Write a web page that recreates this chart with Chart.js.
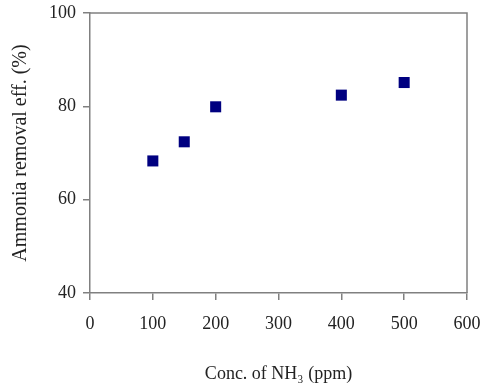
<!DOCTYPE html>
<html>
<head>
<meta charset="utf-8">
<script src="https://cdn.jsdelivr.net/npm/chart.js@4/dist/chart.umd.min.js"></script>
<style>
  html, body { margin: 0; padding: 0; background: #fff; }
  #c { display: block; }
</style>
</head>
<body>
<canvas id="c" width="480" height="385"></canvas>
<script>
const concentrations = [100, 150, 200, 400, 500];
const removalEff = [68.3, 72.4, 79.9, 82.4, 85.1];
const xTicks = [0, 100, 200, 300, 400, 500, 600];
const yTicks = [40, 60, 80, 100];
const xTitle = 'Conc. of NH\u2083 (ppm)';
const yTitle = 'Ammonia removal eff. (%)';

const axisColor = '#808080';
const textColor = '#222';
const serif = "'Liberation Serif', 'Times New Roman', serif";

const boxPlugin = {
  id: 'boxPlugin',
  afterDraw(chart) {
    const a = chart.chartArea, ctx = chart.ctx;
    ctx.save();
    ctx.strokeStyle = axisColor;
    ctx.lineWidth = 1.5;
    ctx.beginPath();
    ctx.moveTo(a.left, a.top);
    ctx.lineTo(a.right, a.top);
    ctx.lineTo(a.right, a.bottom);
    ctx.stroke();
    ctx.restore();
  }
};

new Chart(document.getElementById('c'), {
  type: 'scatter',
  data: {
    datasets: [{
      data: concentrations.map((x, i) => ({ x, y: removalEff[i] })),
      pointStyle: 'rect',
      pointRadius: 7.8,
      pointHoverRadius: 7.8,
      backgroundColor: '#000080',
      borderColor: '#000080',
      borderWidth: 0
    }]
  },
  options: {
    responsive: false,
    animation: false,
    layout: { padding: { top: 13, right: 13, left: 0, bottom: 0 } },
    plugins: { legend: { display: false }, tooltip: { enabled: false } },
    scales: {
      x: {
        type: 'linear',
        min: 0, max: 600,
        afterBuildTicks: s => { s.ticks = xTicks.map(v => ({ value: v })); },
        afterFit: s => { s.height = 92; s.paddingLeft = 0; s.paddingRight = 0; },
        grid: { drawOnChartArea: false, drawTicks: true, tickLength: 7, color: axisColor, lineWidth: 1.5 },
        border: { color: axisColor, width: 1.5 },
        ticks: { color: textColor, font: { family: serif, size: 18 }, padding: 13, maxRotation: 0 },
        title: { display: true, text: xTitle, color: textColor, font: { family: serif, size: 18 }, padding: { top: 0, bottom: 0 } }
      },
      y: {
        type: 'linear',
        min: 40, max: 100,
        afterBuildTicks: s => { s.ticks = yTicks.map(v => ({ value: v })); },
        afterFit: s => { s.width = 90; s.paddingTop = 0; s.paddingBottom = 0; },
        grid: { drawOnChartArea: false, drawTicks: true, tickLength: 7, color: axisColor, lineWidth: 1.5 },
        border: { color: axisColor, width: 1.5 },
        ticks: { color: textColor, font: { family: serif, size: 18 }, padding: 7 },
        title: { display: true, text: yTitle, color: textColor, font: { family: serif, size: 20 }, padding: { top: 9, bottom: 0 } }
      }
    }
  },
  plugins: [boxPlugin]
});
</script>
</body>
</html>
